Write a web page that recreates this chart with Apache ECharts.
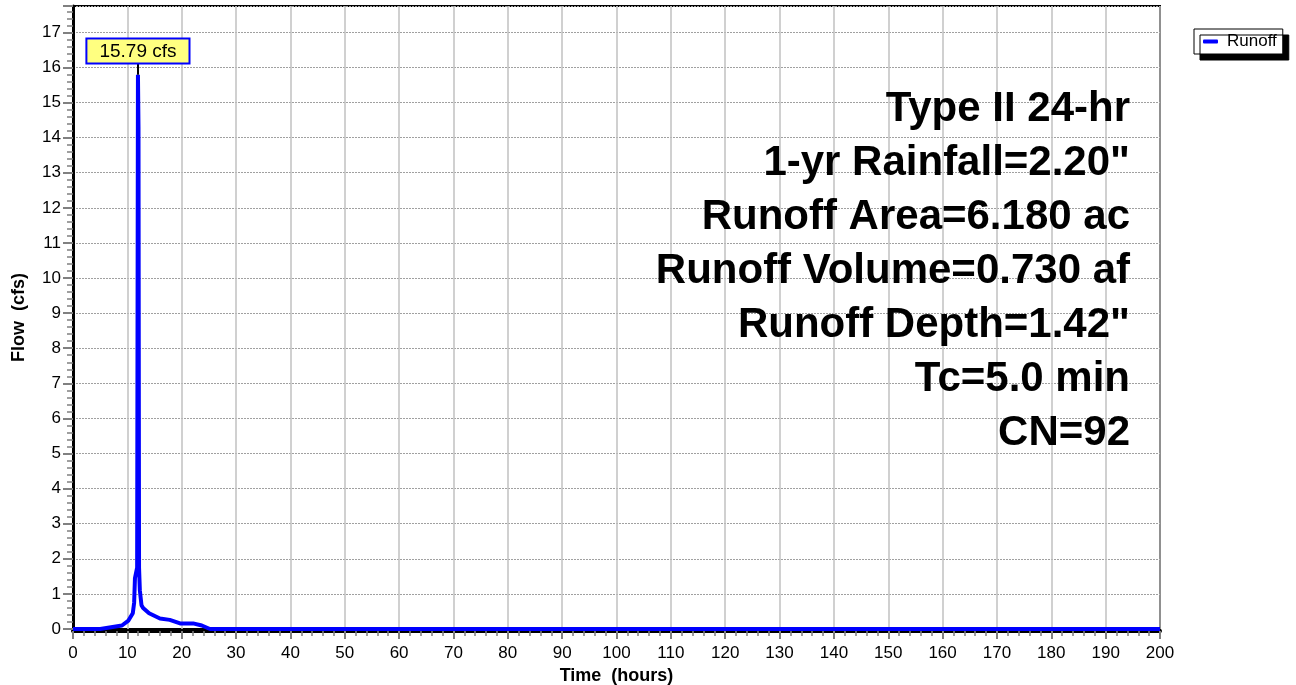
<!DOCTYPE html>
<html>
<head>
<meta charset="utf-8">
<script src="https://cdn.jsdelivr.net/npm/echarts@6/dist/echarts.min.js"></script>
<style>
html,body{margin:0;padding:0;background:#fff;}
#c{width:1296px;height:685px;}
</style>
</head>
<body>
<div id="c"></div>
<script>
// Hydrograph data (time in hours, flow in cfs)
var times = [0, 5, 7, 9, 10.2, 11.0, 11.25, 11.4, 11.8, 11.95, 12.05, 12.15, 12.3, 12.6, 12.9, 14, 16, 17.8, 19.7, 22.1, 23.7, 25.2, 200];
var flows = [0, 0, 0.05, 0.1, 0.24, 0.45, 0.75, 1.45, 1.75, 15.79, 14.3, 1.75, 1.1, 0.68, 0.6, 0.45, 0.3, 0.26, 0.16, 0.16, 0.1, 0, 0];
var peakTime = 11.95;
var peakFlow = 15.79;
var peakLabel = '15.79 cfs';
var infoLines = ['Type II 24-hr', '1-yr Rainfall=2.20"', 'Runoff Area=6.180 ac', 'Runoff Volume=0.730 af', 'Runoff Depth=1.42"', 'Tc=5.0 min', 'CN=92'];
var xMin = 0, xMax = 200, xStep = 10;
var yMin = 0, yMax = 17.75, yStep = 1;
var labelTop = 16.14;

var data = times.map(function (t, i) { return [t, flows[i]]; });
var font = 'Arial, "Liberation Sans", sans-serif';

var infoGraphics = infoLines.map(function (s, i) {
  return {
    type: 'text', x: 1130, y: 109 + i * 54, z: 10,
    style: { text: s, align: 'right', verticalAlign: 'middle', font: 'bold 42px ' + font, fill: '#000' }
  };
});

var chart = echarts.init(document.getElementById('c'));
chart.setOption({
  animation: false,
  backgroundColor: '#fff',
  grid: { left: 73, right: 136, top: 6, bottom: 56, containLabel: false, outerBoundsMode: 'none', show: true, borderColor: '#000', borderWidth: 2, backgroundColor: 'transparent' },
  legend: {
    data: ['Runoff'], left: 1194, top: 29, orient: 'vertical',
    backgroundColor: '#fff', borderColor: '#000', borderWidth: 1,
    shadowColor: '#000', shadowOffsetX: 6, shadowOffsetY: 6, shadowBlur: 0,
    padding: [3, 6, 3, 9], itemWidth: 15, itemHeight: 4, itemGap: 4,
    icon: 'roundRect',
    textStyle: { fontFamily: font, fontSize: 17, lineHeight: 19, color: '#000', padding: [0, 0, 0, 4] }
  },
  xAxis: {
    type: 'value', min: xMin, max: xMax, interval: xStep, offset: 2,
    name: 'Time  (hours)', nameLocation: 'middle', nameGap: 32,
    nameTextStyle: { fontFamily: font, fontSize: 18, fontWeight: 'bold', color: '#000' },
    axisLine: { show: true, onZero: false, lineStyle: { color: '#000', width: 4 } },
    axisTick: { show: true, length: 8, lineStyle: { color: '#808080', width: 2 } },
    minorTick: { show: true, splitNumber: 5, length: 5, lineStyle: { color: '#808080', width: 1.5 } },
    axisLabel: { fontFamily: font, fontSize: 17, color: '#000', margin: 14 },
    splitLine: { show: true, lineStyle: { color: '#c0c0c0', width: 1.5 } }
  },
  yAxis: {
    type: 'value', min: yMin, max: yMax, interval: yStep,
    name: 'Flow  (cfs)', nameLocation: 'middle', nameGap: 45,
    nameTextStyle: { fontFamily: font, fontSize: 18, fontWeight: 'bold', color: '#000' },
    axisLine: { show: true, lineStyle: { color: '#000', width: 3 } },
    axisTick: { show: true, length: 10, lineStyle: { color: '#808080', width: 2 } },
    minorTick: { show: true, splitNumber: 5, length: 6, lineStyle: { color: '#808080', width: 1.5 } },
    axisLabel: {
      fontFamily: font, fontSize: 17, color: '#000', margin: 12,
      formatter: function (v) { return Math.abs(v - Math.round(v)) < 1e-6 ? String(Math.round(v)) : ''; }
    },
    splitLine: { show: true, lineStyle: { color: '#a0a0a0', width: 1, type: [2, 1] } }
  },
  series: [{
    name: 'Runoff', type: 'line', data: data, showSymbol: false, symbol: 'none',
    lineStyle: { color: '#0000ff', width: 4 }, itemStyle: { color: '#0000ff' },
    z: 3,
    markLine: {
      silent: true, symbol: 'none', animation: false,
      lineStyle: { color: '#000', width: 2, type: 'solid' },
      label: { show: false },
      data: [[{ coord: [peakTime, peakFlow] }, { coord: [peakTime, labelTop] }]]
    },
    markPoint: {
      silent: true, symbol: 'rect', symbolSize: 0,
      data: [{ coord: [peakTime, labelTop] }],
      label: {
        show: true, position: 'top', distance: 0, formatter: peakLabel,
        fontFamily: font, fontSize: 19, lineHeight: 20, color: '#000',
        backgroundColor: '#ffff80', borderColor: '#0000ff', borderWidth: 2,
        padding: [2, 12, 1, 12]
      }
    }
  }],
  graphic: infoGraphics
});
</script>
</body>
</html>
